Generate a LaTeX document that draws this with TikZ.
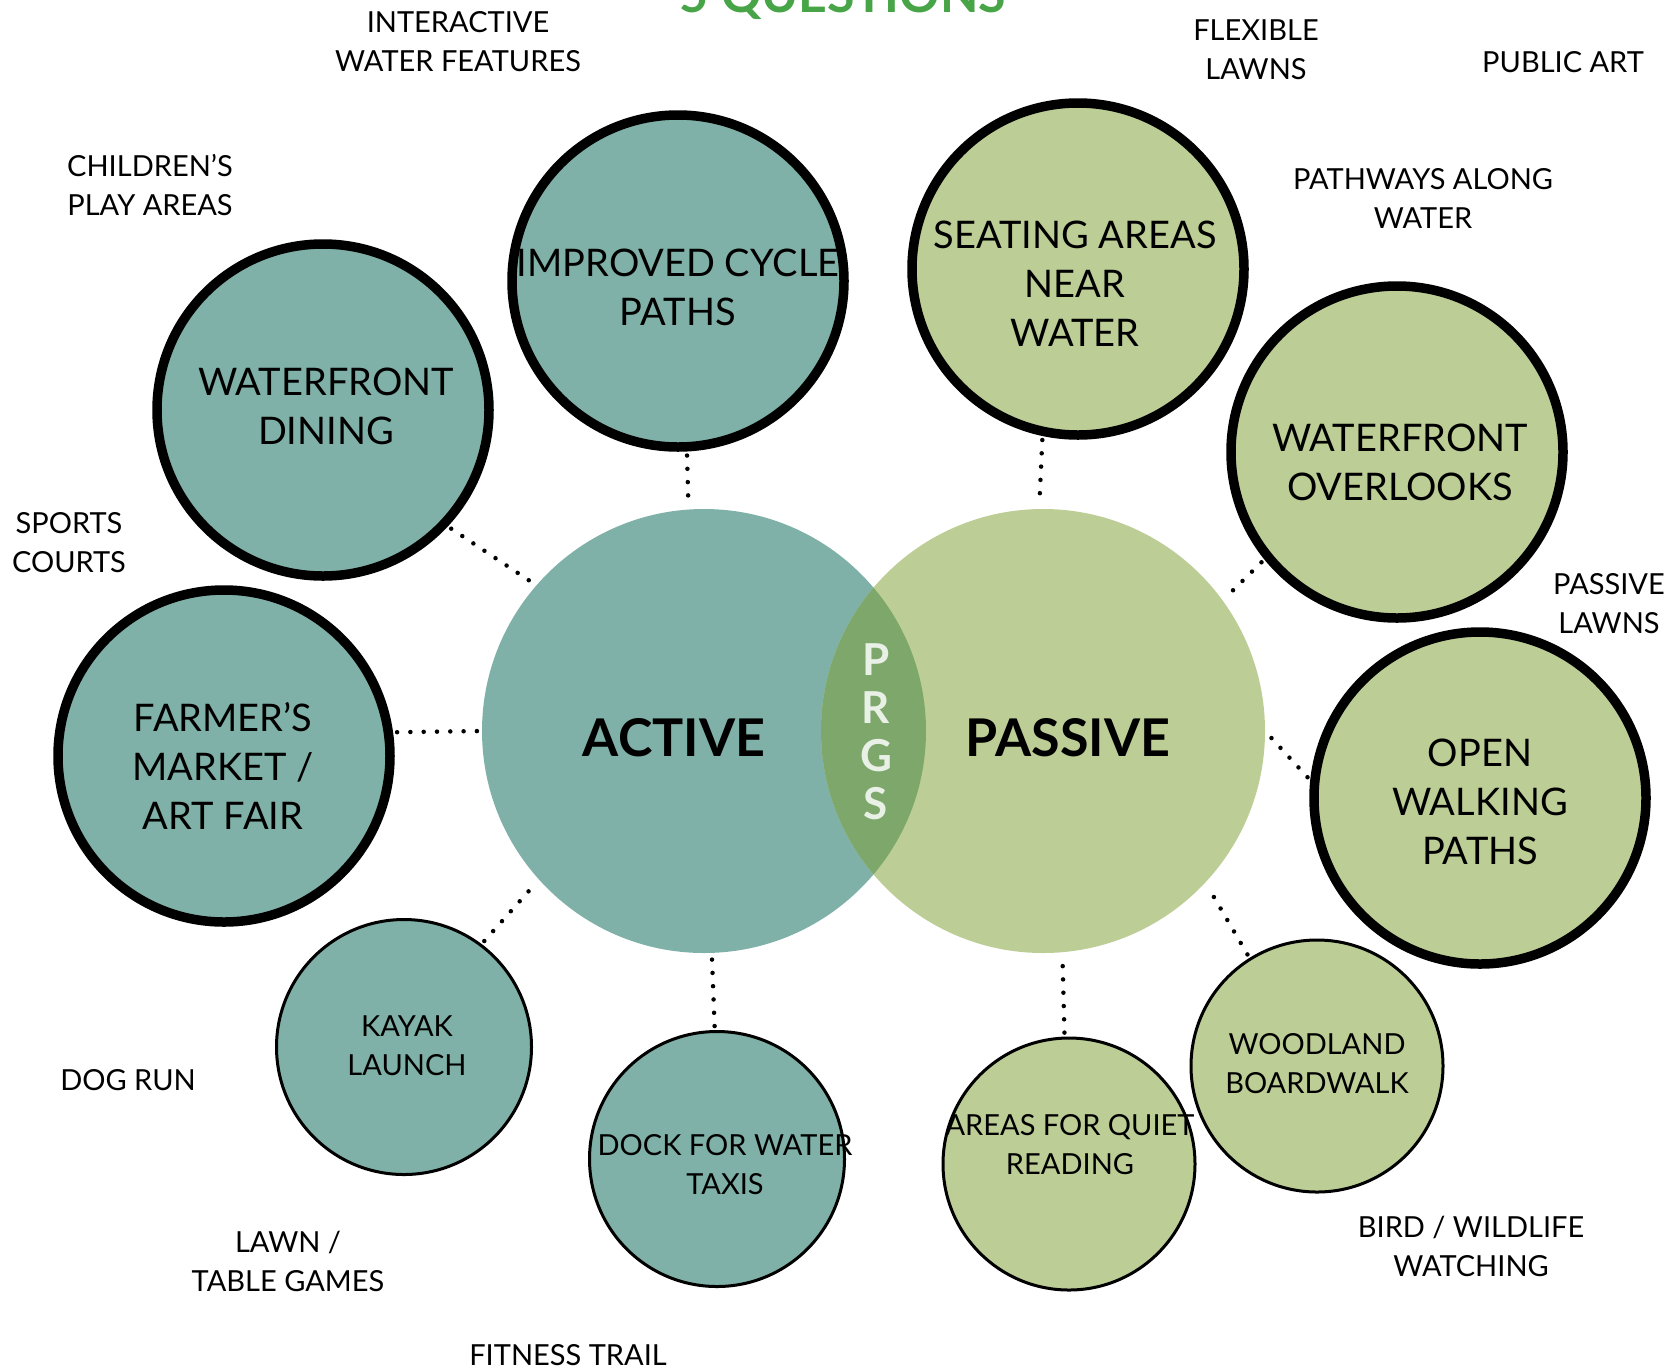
\documentclass[tikz,border=0pt]{standalone}
\usepackage{fontspec}
\setmainfont{Lato}
\definecolor{act}{HTML}{80B1A8}
\definecolor{pas}{HTML}{BCCD95}
\definecolor{lens}{HTML}{7EA76B}
\definecolor{prgs}{HTML}{E9F1E7}
\definecolor{ttl}{HTML}{47A447}
\begin{document}
\begin{tikzpicture}[x=1pt,y=-1pt,
  bigc/.style={circle, minimum size=444pt, inner sep=0pt, outer sep=0pt},
  sat/.style={circle, draw=black, line width=9.5pt, minimum size=332pt, inner sep=0pt},
  satthin/.style={circle, draw=black, line width=3pt, minimum size=255pt, inner sep=0pt},
  dotline/.style={line width=4.5pt, line cap=round, dash pattern=on 0pt off 13.3pt, shorten <=4pt, shorten >=4pt},
  bt/.style={align=center, font=\fontsize{38}{49}\selectfont, inner sep=0pt},
  st/.style={align=center, font=\fontsize{29}{39}\selectfont, inner sep=0pt}]
\fill[white] (0,0) rectangle (1672,1369);
\useasboundingbox (0,0) rectangle (1672,1369);

\node[font={\fontsize{50}{50}\selectfont\bfseries}, text=ttl, anchor=base] (title) at (843,12) {5 QUESTIONS};

% big circles
\node[bigc, fill=act] (active) at (704,731) {};
\node[bigc, fill=pas] (passive) at (1043,731) {};
\begin{scope}
\clip (active.center) circle (222pt);
\fill[lens] (passive.center) circle (222pt);
\end{scope}
\node[font={\fontsize{52}{60}\selectfont\bfseries}, inner sep=0pt] (activet) at (674,738) {ACTIVE};
\node[font={\fontsize{52}{60}\selectfont\bfseries}, inner sep=0pt] (passivet) at (1068,738) {PASSIVE};
\node[font={\fontsize{44}{48}\selectfont\bfseries}, text=prgs, align=center, inner sep=0pt] (prgst) at (876,732) {P\\R\\G\\S};

% satellites
\node[sat, fill=act] (cyc) at (678,281) {};
\node[sat, fill=act] (dining) at (323,410) {};
\node[sat, fill=act] (farmer) at (224,756) {};
\node[satthin, fill=act] (kayak) at (404,1047) {};
\node[satthin, fill=act] (dock) at (717,1159) {};
\node[sat, fill=pas] (seat) at (1078,269) {};
\node[sat, fill=pas] (overl) at (1397,452) {};
\node[sat, fill=pas] (openw) at (1480,798) {};
\node[satthin, fill=pas, minimum size=252pt] (quiet) at (1069,1164) {};
\node[satthin, fill=pas, minimum size=252pt] (wood) at (1317,1066) {};

% connectors
\draw[dotline] (cyc.-87) -- (active.94.7);
\draw[dotline] (dining.-43) -- (active.139);
\draw[dotline] (farmer.8.9) -- (active.180);
\draw[dotline] (kayak.53) -- (active.222);
\draw[dotline] (dock.91) -- (active.-88);
\draw[dotline] (quiet.92) -- (passive.-85);
\draw[dotline] (wood.122) -- (passive.-43);
\draw[dotline] (openw.174) -- (passive.0);
\draw[dotline] (overl.219) -- (passive.36);
\draw[dotline] (seat.-102) -- (passive.91.6);

% satellite texts
\node[bt] (cyct) at (678,287) {IMPROVED CYCLE\\PATHS};
\node[bt] (diningt) at (326,406) {WATERFRONT\\DINING};
\node[bt] (farmert) at (223,766) {FARMER’S\\MARKET /\\ART FAIR};
\node[bt] (seatt) at (1075,284) {SEATING AREAS\\NEAR\\WATER};
\node[bt] (overlt) at (1400,462) {WATERFRONT\\OVERLOOKS};
\node[bt] (openwt) at (1480,802) {OPEN\\WALKING\\PATHS};
\node[st] (kayakt) at (407,1046) {KAYAK\\LAUNCH};
\node[st] (dockt) at (725,1165) {DOCK FOR WATER\\TAXIS};
\node[st] (quiett) at (1070,1145) {AREAS FOR QUIET\\READING};
\node[st] (woodt) at (1317,1064) {WOODLAND\\BOARDWALK};

% outer labels
\node[st] (l1) at (458,42) {INTERACTIVE\\WATER FEATURES};
\node[st] (l2) at (150,185) {CHILDREN’S\\PLAY AREAS};
\node[st] (l3) at (1256,50) {FLEXIBLE\\LAWNS};
\node[st] (l4) at (1563,62) {PUBLIC ART};
\node[st] (l5) at (1423,198) {PATHWAYS ALONG\\WATER};
\node[st] (l6) at (69,543) {SPORTS\\COURTS};
\node[st] (l7) at (1609,604) {PASSIVE\\LAWNS};
\node[st] (l8) at (128,1080) {DOG RUN};
\node[st] (l9) at (288,1261) {LAWN /\\TABLE GAMES};
\node[st] (l10) at (568,1355) {FITNESS TRAIL};
\node[st] (l11) at (1471,1246) {BIRD / WILDLIFE\\WATCHING};
\end{tikzpicture}
\end{document}
